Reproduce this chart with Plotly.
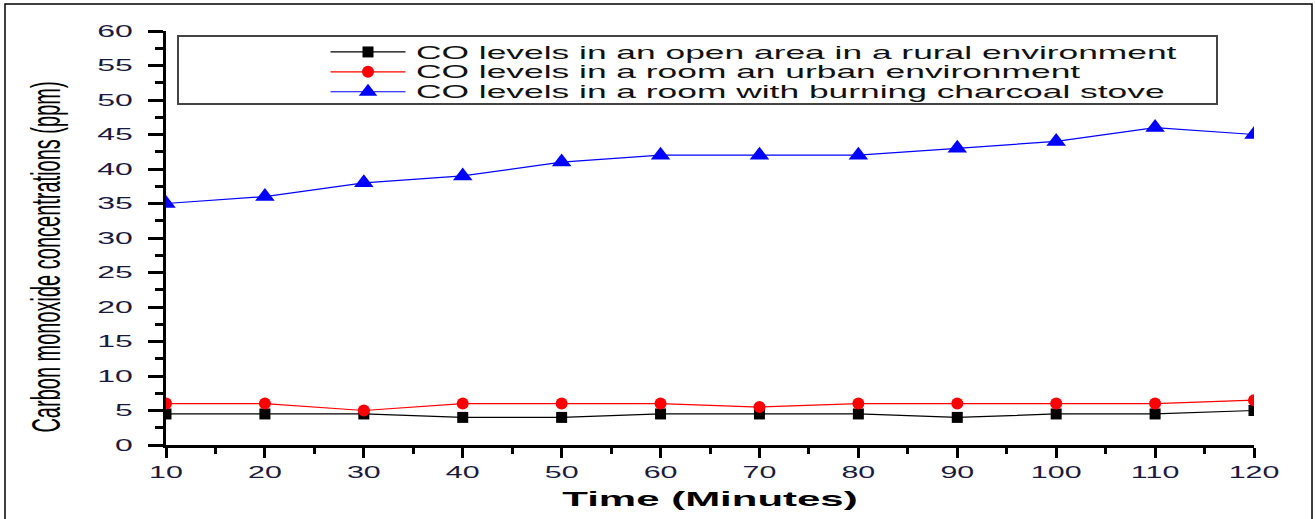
import plotly.graph_objects as go

time_min = [10, 20, 30, 40, 50, 60, 70, 80, 90, 100, 110, 120]
rural_open = [4.5, 4.5, 4.5, 4.0, 4.0, 4.5, 4.5, 4.5, 4.0, 4.5, 4.5, 5.0]
urban_room = [6.0, 6.0, 5.0, 6.0, 6.0, 6.0, 5.5, 6.0, 6.0, 6.0, 6.0, 6.5]
charcoal_room = [35, 36, 38, 39, 41, 42, 42, 42, 43, 44, 46, 45]

names = [
    "CO levels in an open area in a rural environment",
    "CO levels in a room an urban environment",
    "CO levels in a room with burning charcoal stove",
]

fig = go.Figure()
fig.add_trace(go.Scatter(x=time_min, y=rural_open, name=names[0], mode="lines+markers",
                         line=dict(color="black", width=1.2),
                         marker=dict(symbol="square", size=11, color="black")))
fig.add_trace(go.Scatter(x=time_min, y=urban_room, name=names[1], mode="lines+markers",
                         line=dict(color="red", width=1.2),
                         marker=dict(symbol="circle", size=12, color="red")))
fig.add_trace(go.Scatter(x=time_min, y=charcoal_room, name=names[2], mode="lines+markers",
                         line=dict(color="blue", width=1.2),
                         marker=dict(symbol="triangle-up", size=17, color="blue")))

W, H = 1315, 519
L, R, T, B = 166, 61, 31, 74
pw, ph = W - L - R, H - T - B

def px(x):
    return (x - L) / pw

def py(y):
    return (H - B - y) / ph

FONT = "Liberation Sans, Arial, sans-serif"
tickfont = dict(family=FONT, size=16, color="#1a1a3c")

fig.update_layout(
    width=W, height=H,
    margin=dict(l=L, r=R, t=T, b=B),
    paper_bgcolor="white", plot_bgcolor="white",
    showlegend=True,
    legend=dict(x=px(348), y=py(37), xanchor="left", yanchor="top",
                bgcolor="rgba(0,0,0,0)", borderwidth=0,
                font=dict(family=FONT, size=13, color="#111111"),
                tracegroupgap=0),
    xaxis=dict(range=[10, 120], tickvals=list(range(10, 121, 10)),
               showgrid=False, zeroline=False, showline=True, linecolor="black", linewidth=3,
               ticks="outside", ticklen=10, tickwidth=3, tickcolor="black",
               minor=dict(ticks="outside", ticklen=6, tickwidth=3, tickcolor="black", dtick=5, tick0=5),
               tickfont=tickfont, ticklabelstandoff=1,
               title=dict(text="<b>Time (Minutes)</b>", font=dict(family=FONT, size=21, color="black"), standoff=12)),
    yaxis=dict(range=[0, 60], tickvals=list(range(0, 61, 5)),
               showgrid=False, zeroline=False, showline=True, linecolor="black", linewidth=3,
               ticks="outside", ticklen=15, tickwidth=3, tickcolor="black",
               minor=dict(ticks="outside", ticklen=8, tickwidth=3, tickcolor="black", dtick=2.5, tick0=2.5),
               tickfont=tickfont, ticklabelstandoff=12,
               title=dict(text="Carbon monoxide concentrations (ppm)",
                          font=dict(family=FONT, size=20, color="black"),
                          standoff=56)),
    shapes=[
        dict(type="rect", xref="paper", yref="paper", x0=px(178), x1=px(1217), y0=py(104), y1=py(36),
             line=dict(color="#444444", width=2), fillcolor="rgba(0,0,0,0)", layer="below"),
        dict(type="rect", xref="paper", yref="paper", x0=px(5), x1=px(1312), y0=py(530), y1=py(4),
             line=dict(color="black", width=1.5), fillcolor="rgba(0,0,0,0)", layer="below"),
    ],
)

# The reference image is horizontally stretched (~2x); mimic by widening text glyphs.
css = """
body { margin: 0 !important; }
.legend .scrollbox { clip-path: none !important; }
.legendtext { transform-box: fill-box; transform-origin: 0% 50%; transform: translateX(28px) scale(2.72, 1.35); }
.legendlines { transform-box: fill-box; transform-origin: 50% 50%; transform: scaleX(2.5); }
g.xtick { transform-box: fill-box; transform-origin: 50% 50%; transform: scaleX(1.9); }
g.ytick { transform-box: fill-box; transform-origin: 100% 50%; transform: scaleX(2.0); }
.g-xtitle { transform-box: fill-box; transform-origin: 50% 50%; transform: scaleX(2.0); }
.g-ytitle { transform-box: fill-box; transform-origin: 50% 50%; transform: translateY(19px) scaleX(2.0); }
"""
post = "var s=document.createElement('style');s.textContent=%r;document.head.appendChild(s);" % css

fig.write_html("out.html", post_script=post, config={"displayModeBar": False})
